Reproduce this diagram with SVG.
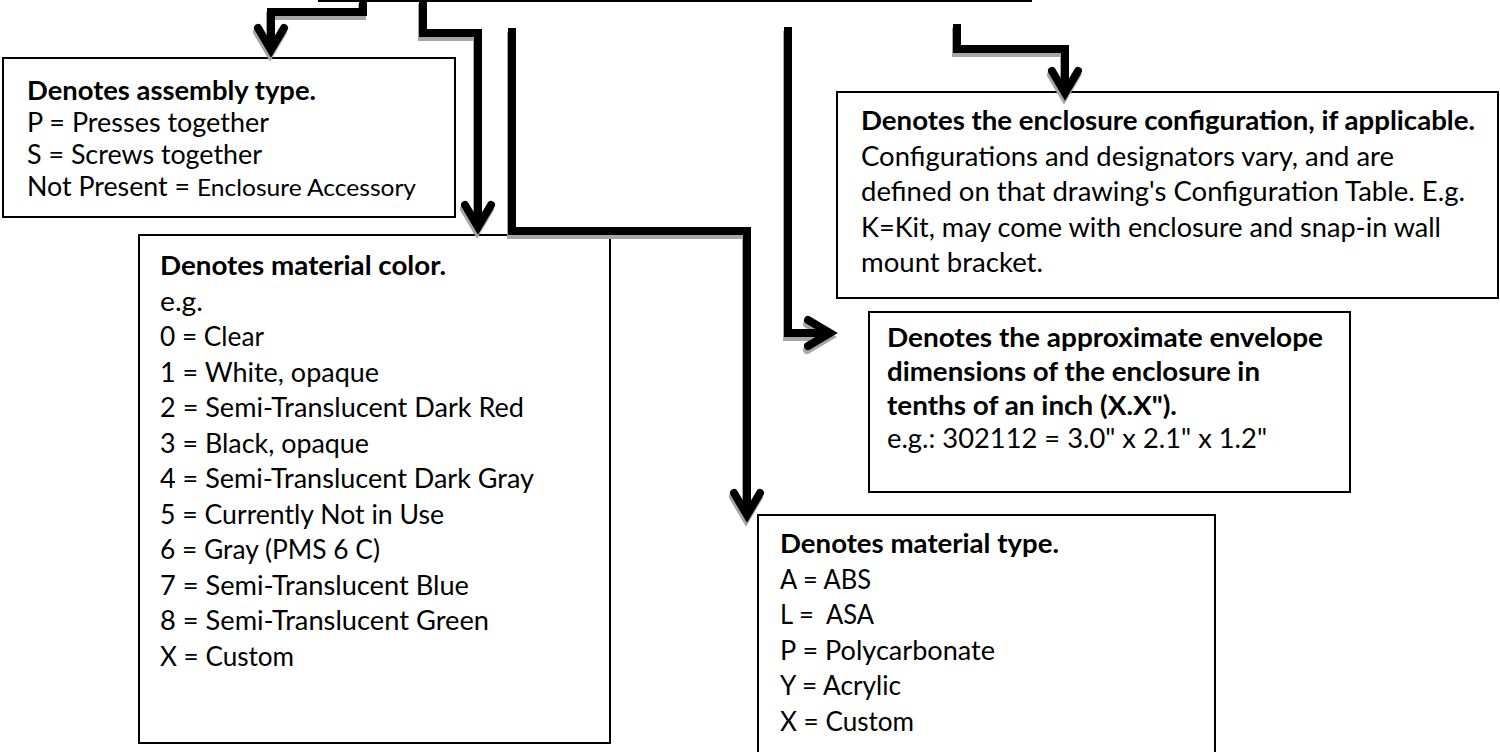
<svg xmlns="http://www.w3.org/2000/svg" xmlns:xlink="http://www.w3.org/1999/xlink" width="1500" height="752" viewBox="0 0 1500 752">
<style>
.box{fill:#fff;stroke:#000;stroke-width:2}
.t{font-family:Lato,"Open Sans","Liberation Sans",sans-serif;font-size:26.2px;fill:#000;white-space:pre}
.b{font-weight:bold}
.s{font-size:23.8px}
.conn{fill:none;stroke-width:8;stroke-linejoin:miter;stroke-miterlimit:4}
.shadow{stroke:#a6a6a6}
.ink{stroke:#000}
</style>
<defs>
<g id="conn-shapes">
<path d="M363,0 V12 H271 V50"/>
<path d="M258,28 L271,50 L284,28" stroke-linecap="round"/>
<path d="M423,0 V33 H478 V227"/>
<path d="M465,205 L478,227 L491,205" stroke-linecap="round"/>
<path d="M512,28 V231 H747 V515"/>
<path d="M734,493 L747,515 L760,493" stroke-linecap="round"/>
<path d="M788,27 V333 H830"/>
<path d="M808,320 L830,333 L808,346" stroke-linecap="round"/>
<path d="M957,24 V49 H1065 V93"/>
<path d="M1052,71 L1065,93 L1078,71" stroke-linecap="round"/>
</g>
</defs>
<g id="top-edge"><line x1="318" y1="1" x2="1032" y2="1" stroke="#000" stroke-width="2"/></g>
<g id="assembly-type">
<rect class="box" x="3" y="58" width="452" height="159"/>
<text class="t b" x="27" y="100" textLength="289" lengthAdjust="spacingAndGlyphs">Denotes assembly type.</text>
<text class="t" x="27" y="132" textLength="242" lengthAdjust="spacingAndGlyphs">P = Presses together</text>
<text class="t" x="27" y="164" textLength="235" lengthAdjust="spacingAndGlyphs">S = Screws together</text>
<text class="t" x="27" y="196" textLength="163" lengthAdjust="spacingAndGlyphs">Not Present =</text>
<text class="t s" x="197" y="196" textLength="219" lengthAdjust="spacingAndGlyphs">Enclosure Accessory</text>
</g>
<g id="material-color">
<rect class="box" x="139" y="235" width="471" height="508"/>
<text class="t b" x="160" y="275" textLength="286" lengthAdjust="spacingAndGlyphs">Denotes material color.</text>
<text class="t" x="160" y="310.5" textLength="43" lengthAdjust="spacingAndGlyphs">e.g.</text>
<text class="t" x="160" y="346" textLength="104" lengthAdjust="spacingAndGlyphs">0 = Clear</text>
<text class="t" x="160" y="381.5" textLength="219" lengthAdjust="spacingAndGlyphs">1 = White, opaque</text>
<text class="t" x="160" y="417" textLength="364" lengthAdjust="spacingAndGlyphs">2 = Semi-Translucent Dark Red</text>
<text class="t" x="160" y="452.5" textLength="209" lengthAdjust="spacingAndGlyphs">3 = Black, opaque</text>
<text class="t" x="160" y="488" textLength="374" lengthAdjust="spacingAndGlyphs">4 = Semi-Translucent Dark Gray</text>
<text class="t" x="160" y="523.5" textLength="284" lengthAdjust="spacingAndGlyphs">5 = Currently Not in Use</text>
<text class="t" x="160" y="559" textLength="220" lengthAdjust="spacingAndGlyphs">6 = Gray (PMS 6 C)</text>
<text class="t" x="160" y="594.5" textLength="309" lengthAdjust="spacingAndGlyphs">7 = Semi-Translucent Blue</text>
<text class="t" x="160" y="630" textLength="329" lengthAdjust="spacingAndGlyphs">8 = Semi-Translucent Green</text>
<text class="t" x="160" y="665.5" textLength="134" lengthAdjust="spacingAndGlyphs">X = Custom</text>
</g>
<g id="enclosure-configuration">
<rect class="box" x="837" y="92" width="661" height="206"/>
<text class="t b" x="861" y="130" textLength="614" lengthAdjust="spacingAndGlyphs">Denotes the enclosure configuration, if applicable.</text>
<text class="t" x="861" y="165.5" textLength="533" lengthAdjust="spacingAndGlyphs">Configurations and designators vary, and are</text>
<text class="t" x="861" y="201" textLength="604" lengthAdjust="spacingAndGlyphs">defined on that drawing's Configuration Table. E.g.</text>
<text class="t" x="861" y="236.5" textLength="580" lengthAdjust="spacingAndGlyphs">K=Kit, may come with enclosure and snap-in wall</text>
<text class="t" x="861" y="272" textLength="182" lengthAdjust="spacingAndGlyphs">mount bracket.</text>
</g>
<g id="envelope-dimensions">
<rect class="box" x="869" y="312" width="481" height="180"/>
<text class="t b" x="887" y="347" textLength="436" lengthAdjust="spacingAndGlyphs">Denotes the approximate envelope</text>
<text class="t b" x="887" y="381" textLength="373" lengthAdjust="spacingAndGlyphs">dimensions of the enclosure in</text>
<text class="t b" x="887" y="414.5" textLength="290" lengthAdjust="spacingAndGlyphs">tenths of an inch (X.X").</text>
<text class="t" x="887" y="448" textLength="380" lengthAdjust="spacingAndGlyphs">e.g.: 302112 = 3.0" x 2.1" x 1.2"</text>
</g>
<g id="material-type">
<rect class="box" x="758" y="515" width="457" height="250"/>
<text class="t b" x="780" y="553" textLength="279" lengthAdjust="spacingAndGlyphs">Denotes material type.</text>
<text class="t" x="780" y="588.5" textLength="91" lengthAdjust="spacingAndGlyphs">A = ABS</text>
<text class="t" x="780" y="624" textLength="94" lengthAdjust="spacingAndGlyphs" xml:space="preserve">L =  ASA</text>
<text class="t" x="780" y="659.5" textLength="215" lengthAdjust="spacingAndGlyphs">P = Polycarbonate</text>
<text class="t" x="780" y="695" textLength="121" lengthAdjust="spacingAndGlyphs">Y = Acrylic</text>
<text class="t" x="780" y="730.5" textLength="134" lengthAdjust="spacingAndGlyphs">X = Custom</text>
</g>
<g id="connectors">
<use xlink:href="#conn-shapes" href="#conn-shapes" class="conn shadow" transform="translate(-1,4)"/>
<use xlink:href="#conn-shapes" href="#conn-shapes" class="conn ink"/>
</g>
</svg>
